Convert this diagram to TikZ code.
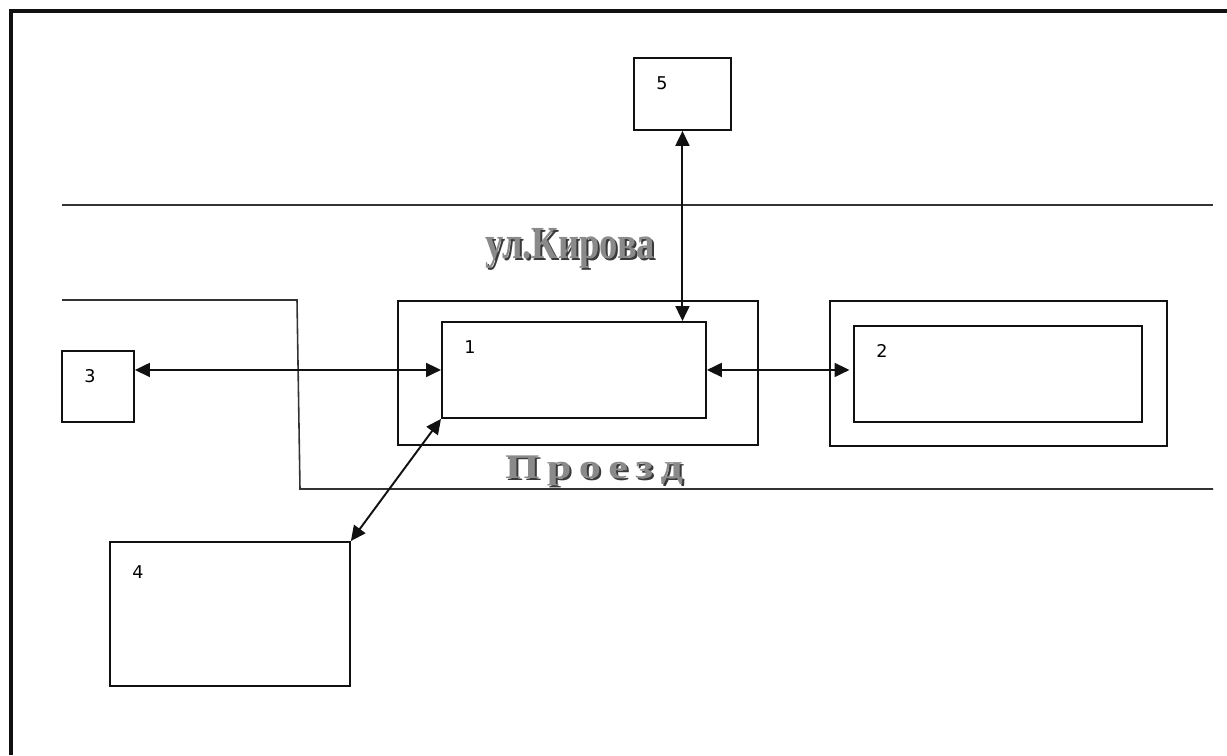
\documentclass[tikz,border=0pt]{standalone}
\usepackage{graphicx}
\usepackage{fontspec}
\setmainfont{DejaVu Sans}
\newfontfamily\artfont{Liberation Serif}
\usepackage{tikz}
\usetikzlibrary{arrows.meta,positioning}
\definecolor{ink}{HTML}{111111}
\definecolor{road}{HTML}{333333}
\definecolor{artfill}{HTML}{8A8A8A}
\definecolor{artshade}{HTML}{3A3A3A}

\begin{document}
\begin{tikzpicture}[x=0.02cm,y=-0.02cm,>={Triangle[length=3mm,width=2.8mm]},
  plot/.style={draw=ink,line width=1.1pt,anchor=north west,inner sep=0pt},
  num/.style={anchor=north west,inner sep=0pt,font=\fontsize{10}{12}\selectfont,xshift=0.46cm,yshift=-0.38cm},
  link/.style={<->,draw=ink,line width=1.1pt},
  street/.style={draw=road,line width=0.9pt},
  art/.style={inner sep=0pt,font=\artfont\bfseries}]
  \useasboundingbox (0,0) rectangle (1227,755);
  % frame
  \draw[ink,line width=1.8pt] (11,755) -- (11,11) -- (1227,11);
  % roads
  \draw[street] (62,205) -- (1213,205);
  \draw[street] (62,300) -- (297,300) -- (300,489) -- (1213,489);
  \node[art,text=artshade] (kirovash) at (572,250) {\resizebox*{3.4cm}{0.8cm}{ул.Кирова}};
  \node[art,text=artfill] (kirova) at (570,248) {\resizebox*{3.4cm}{0.8cm}{ул.Кирова}};
  \node[art,text=artshade] (proezdsh) at (596,473) {\resizebox*{3.56cm}{0.6cm}{П\,р\,о\,е\,з\,д}};
  \node[art,text=artfill] (proezd) at (594,471) {\resizebox*{3.56cm}{0.6cm}{П\,р\,о\,е\,з\,д}};
  % plots
  \node[plot,minimum width=1.94cm,minimum height=1.44cm] (b5) at (633,57) {};
  \node[plot,minimum width=7.2cm,minimum height=2.88cm] (o1) at (397,300) {};
  \node[plot,minimum width=5.28cm,minimum height=1.92cm] (b1) at (441,321) {};
  \node[plot,minimum width=6.74cm,minimum height=2.9cm] (o2) at (829,300) {};
  \node[plot,minimum width=5.76cm,minimum height=1.92cm] (b2) at (853,325) {};
  \node[plot,minimum width=1.44cm,minimum height=1.42cm] (b3) at (61,350) {};
  \node[plot,minimum width=4.8cm,minimum height=2.88cm] (b4) at (109,541) {};
  \node[num] (n5) at (b5.north west) {5};
  \node[num] (n1) at (b1.north west) {1};
  \node[num] (n2) at (b2.north west) {2};
  \node[num] (n3) at (b3.north west) {3};
  \node[num,yshift=-0.1cm] (n4) at (b4.north west) {4};
  % links
  \draw[link] (b5.south) -- (b5.south |- b1.north);
  \draw[link] (b1.west -| b3.east) -- (b1.west);
  \draw[link] (b1.east) -- ([xshift=-2pt]b1.east -| b2.west);
  \draw[link] (b1.south west) -- (b4.north east);
\end{tikzpicture}
\end{document}
